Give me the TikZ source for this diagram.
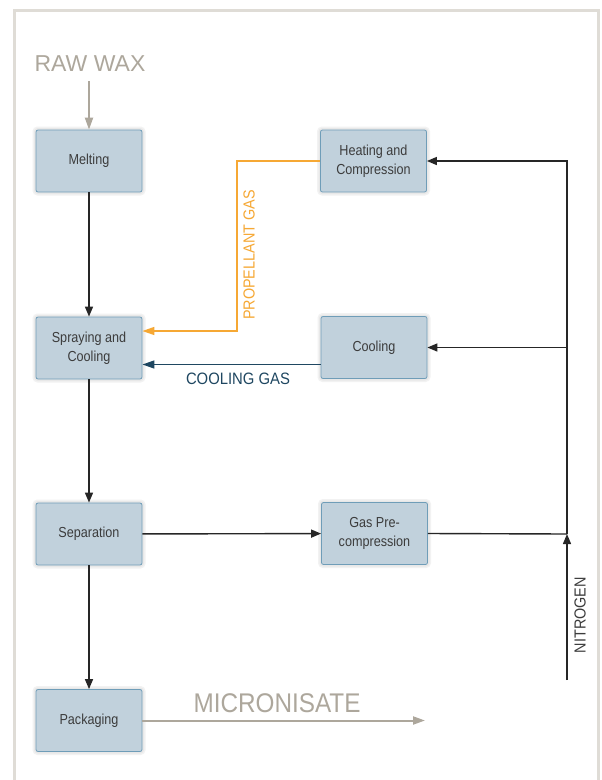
\documentclass[tikz,border=0pt]{standalone}
\usepackage{fontspec}
\setmainfont{Liberation Sans}
\newfontfamily\boxfont[FakeStretch=0.87]{Liberation Sans}
\newfontfamily\labfont[FakeStretch=0.9]{Liberation Sans}
\usetikzlibrary{arrows.meta}
\definecolor{boxfill}{HTML}{C1D1DC}
\definecolor{boxline}{HTML}{6F9DB8}
\definecolor{boxtext}{HTML}{3C3C3C}
\definecolor{wax}{HTML}{ADA79C}
\definecolor{prop}{HTML}{F6A834}
\definecolor{cgas}{HTML}{1F4761}
\definecolor{frame}{HTML}{DFDCD6}
\tikzset{
  procbox/.style={draw=boxline, fill=boxfill, rounded corners=2pt, line width=0.8pt,
    minimum width=106pt, minimum height=62pt, align=center, text=boxtext,
    font=\boxfont\fontsize{14.5}{19}\selectfont,
    preaction={draw=black!5, line width=7pt},
    preaction={draw=black!9, line width=4pt}},
  blk/.style={draw=black!85, line width=1.4pt, -{Triangle[length=10pt,width=8pt]}},
  blkline/.style={draw=black!85, line width=1.4pt},
  grayarrow/.style={draw=wax, line width=2pt, -{Triangle[length=12pt,width=8pt]}},
  orangearrow/.style={draw=prop, line width=1.5pt, -{Triangle[length=12pt,width=8pt]}},
  tealarrow/.style={draw=cgas, line width=1.5pt, -{Triangle[length=12pt,width=8pt]}},
}
\begin{document}
\begin{tikzpicture}[x=1pt,y=-1pt]
\useasboundingbox (0,0) rectangle (602,780);
\fill[white] (0,0) rectangle (602,780);
\draw[frame, line width=3pt] (14.5,800) -- (14.5,10.5) -- (598.5,10.5) -- (598.5,800);

% process boxes
\node[procbox] (melt) at (89,161) {Melting};
\node[procbox] (heat) at (373.5,161) {Heating and\\Compression};
\node[procbox] (spray) at (89,348) {Spraying and\\Cooling};
\node[procbox] (cool) at (374,347.5) {Cooling};
\node[procbox] (sep) at (89,534) {Separation};
\node[procbox] (gpc) at (374.5,533.5) {Gas Pre-\\compression};
\node[procbox] (pack) at (89,720.5) {Packaging};

% labels
\node[text=wax, font=\fontsize{23}{26}\selectfont] (raw) at (90,64) {RAW WAX};
\node[text=wax, font=\labfont\fontsize{27}{30}\selectfont] (micro) at (277,703) {MICRONISATE};
\node[text=cgas, font=\labfont\fontsize{16.5}{19}\selectfont] (cglab) at (238,379) {COOLING GAS};
\node[text=prop, font=\labfont\fontsize{16}{19}\selectfont, rotate=90] (pglab) at (249,255) {PROPELLANT GAS};
\node[text=boxtext, font=\labfont\fontsize{16}{19}\selectfont, rotate=90] (nlab) at (580,615) {NITROGEN};

% coordinates
\coordinate (r0) at (89,81);
\coordinate (junc) at (567,534);
\coordinate (n0) at (567,680);
\coordinate (m1) at (425,720.5);
\coordinate (pg0) at ([yshift=-17pt]cool.west);

% connectors
\draw[grayarrow] (r0) -- (melt.north);
\draw[blk] (melt) -- (spray);
\draw[blk] (spray) -- (sep);
\draw[blk] (sep) -- (pack);
\draw[blk] (sep) -- (gpc);
\draw[orangearrow] (heat.west) -- ++(-83,0) |- ([yshift=17pt]spray.east);
\draw[tealarrow] (pg0) -- (pg0 -| spray.east);
\draw[blkline] (gpc.east) -- (junc);
\draw[blk] (junc) |- (heat.east);
\draw[blk] (junc |- cool.east) -- (cool.east);
\draw[blk] (n0) -- (junc);
\draw[grayarrow] (pack.east) -- (m1);
\end{tikzpicture}
\end{document}
